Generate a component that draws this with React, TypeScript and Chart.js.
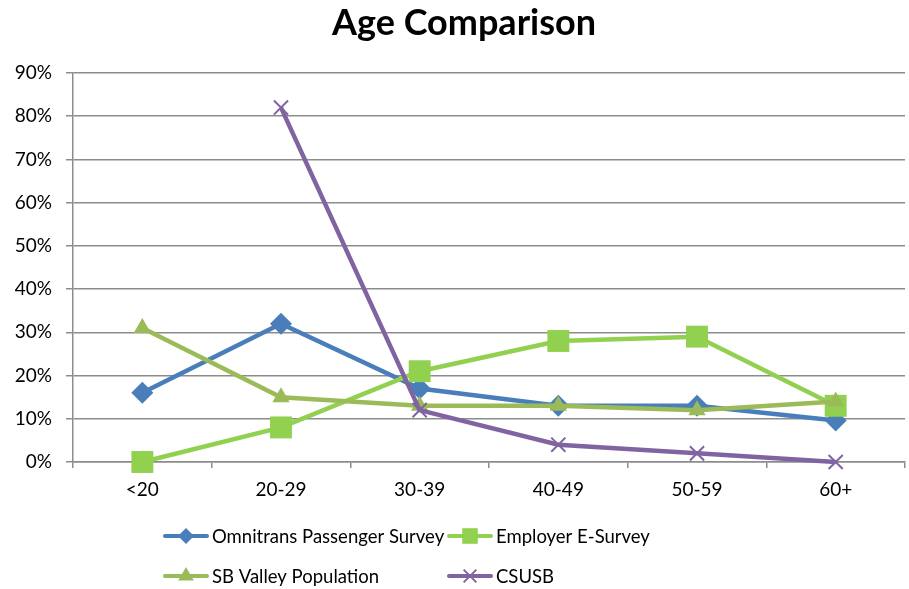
import React, { useEffect, useRef } from 'react';
import { Chart, registerables } from 'chart.js';

Chart.register(...registerables);

const categories = ['<20', '20-29', '30-39', '40-49', '50-59', '60+'];
const omnitrans = [16, 32, 17, 13, 13, 9.6];
const employer = [0, 8, 21, 28, 29, 13];
const sbValley = [31, 15, 13, 13, 12, 14];
const csusb = [null, 82, 12, 4, 2, 0];
const seriesNames = ['Omnitrans Passenger Survey', 'Employer E-Survey', 'SB Valley Population', 'CSUSB'];
const titleText = 'Age Comparison';
const yMax = 90;
const yStep = 10;

const FONT = 'Lato, "Open Sans", sans-serif';

const legendPositions = [
  { x: 165, y: 536 },
  { x: 449, y: 536 },
  { x: 165, y: 576 },
  { x: 449, y: 576 },
];

function drawMarker(ctx: CanvasRenderingContext2D, style: string, x: number, y: number, r: number, color: string) {
  ctx.save();
  ctx.fillStyle = color;
  ctx.strokeStyle = color;
  ctx.beginPath();
  if (style === 'rectRot') {
    ctx.moveTo(x, y - r);
    ctx.lineTo(x + r, y);
    ctx.lineTo(x, y + r);
    ctx.lineTo(x - r, y);
    ctx.closePath();
    ctx.fill();
  } else if (style === 'rect') {
    const s = r * Math.SQRT1_2;
    ctx.rect(x - s, y - s, 2 * s, 2 * s);
    ctx.fill();
  } else if (style === 'triangle') {
    ctx.moveTo(x, y - r);
    ctx.lineTo(x + r * 0.866, y + r * 0.5);
    ctx.lineTo(x - r * 0.866, y + r * 0.5);
    ctx.closePath();
    ctx.fill();
  } else if (style === 'crossRot') {
    const d = r * Math.SQRT1_2;
    ctx.lineWidth = 2;
    ctx.moveTo(x - d, y - d);
    ctx.lineTo(x + d, y + d);
    ctx.moveTo(x + d, y - d);
    ctx.lineTo(x - d, y + d);
    ctx.stroke();
  }
  ctx.restore();
}

const titleAndLegend = {
  id: 'titleAndLegend',
  afterDraw(chart: any) {
    const ctx: CanvasRenderingContext2D = chart.ctx;
    ctx.save();
    ctx.fillStyle = '#000';
    ctx.font = `bold 36px ${FONT}`;
    ctx.textAlign = 'center';
    ctx.textBaseline = 'alphabetic';
    ctx.fillText(titleText, 464, 35);
    ctx.restore();
    chart.data.datasets.forEach((ds: any, i: number) => {
      const p = legendPositions[i];
      ctx.save();
      ctx.strokeStyle = ds.borderColor;
      ctx.lineWidth = 4;
      ctx.lineCap = 'round';
      ctx.beginPath();
      ctx.moveTo(p.x, p.y);
      ctx.lineTo(p.x + 42, p.y);
      ctx.stroke();
      ctx.restore();
      drawMarker(ctx, ds.pointStyle, p.x + 21, p.y, ds.legendRadius, ds.pointBackgroundColor);
      ctx.save();
      ctx.fillStyle = '#000';
      ctx.font = `18.5px ${FONT}`;
      ctx.textBaseline = 'middle';
      ctx.textAlign = 'left';
      ctx.fillText(ds.label, p.x + 47, p.y + 1);
      ctx.restore();
    });
  },
};

export default function App() {
  const ref = useRef<HTMLCanvasElement>(null);

  useEffect(() => {
    if (!ref.current) return;
    const mk = (label: string, data: any[], color: string, style: string, radius: number, legendRadius: number, order: number) => ({
      label,
      data,
      borderColor: color,
      backgroundColor: color,
      pointBackgroundColor: color,
      pointBorderColor: color,
      pointStyle: style,
      pointRadius: radius,
      pointBorderWidth: style === 'crossRot' ? 2 : 0,
      borderWidth: 4.5,
      tension: 0,
      order,
      clip: false,
      legendRadius,
    });
    const chart = new Chart(ref.current, {
      type: 'line',
      data: {
        labels: categories,
        datasets: [
          mk(seriesNames[0], omnitrans, '#4a7ebb', 'rectRot', 11, 8, 3),
          mk(seriesNames[1], employer, '#92d050', 'rect', 15.5, 11, 2),
          mk(seriesNames[2], sbValley, '#9bbb59', 'triangle', 10, 9, 1),
          mk(seriesNames[3], csusb, '#8064a2', 'crossRot', 10, 9, 0),
        ] as any,
      },
      options: {
        responsive: false,
        animation: false,
        layout: { autoPadding: false, padding: { left: 0, right: 4, top: 73, bottom: 0 } },
        plugins: {
          legend: { display: false },
          tooltip: { enabled: false },
          title: { display: false },
        },
        scales: {
          x: {
            offset: true,
            grid: {
              offset: true,
              drawOnChartArea: false,
              drawTicks: true,
              tickLength: 6,
              color: '#8c8c8c',
              lineWidth: 1.5,
            },
            border: { color: '#8c8c8c', width: 1.5 },
            ticks: { color: '#000', font: { family: FONT, size: 19 }, padding: 10, maxRotation: 0 },
            afterFit: (s: any) => { s.height = 127; s.paddingLeft = 0; s.paddingRight = 0; },
          },
          y: {
            min: 0,
            max: yMax,
            grid: { color: '#8c8c8c', lineWidth: 1.5, tickLength: 7, drawTicks: true },
            border: { color: '#8c8c8c', width: 1.5 },
            ticks: {
              stepSize: yStep,
              color: '#000',
              font: { family: FONT, size: 19 },
              padding: 14,
              callback: (v: any) => `${v}%`,
            },
            afterFit: (s: any) => { s.width = 73; s.paddingTop = 0; s.paddingBottom = 0; },
          },
        },
      },
      plugins: [titleAndLegend],
    });
    return () => chart.destroy();
  }, []);

  return (
    <div style={{ position: 'fixed', left: 0, top: 0, width: 909, height: 589, background: '#fff' }}>
      <canvas ref={ref} width={909} height={589} style={{ width: 909, height: 589 }} />
    </div>
  );
}
